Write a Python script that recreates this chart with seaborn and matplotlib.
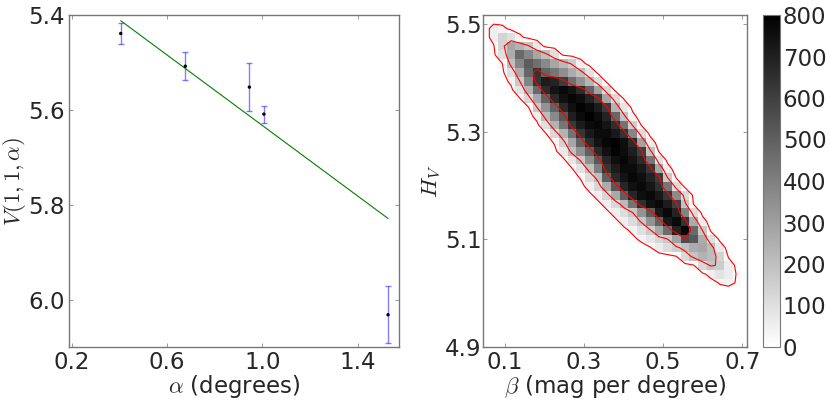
import numpy as np
import pandas as pd
import matplotlib
matplotlib.use("Agg")
import matplotlib.pyplot as plt
import seaborn as sns

# ---------------- data: left panel ----------------
alpha_deg = [0.406, 0.677, 0.946, 1.007, 1.528]
V_mag = [5.439, 5.508, 5.552, 5.609, 6.032]
V_err = [0.022, 0.030, 0.050, 0.018, 0.060]
fit_alpha = [0.406, 1.528]
fit_V = [5.412, 5.829]

# ---------------- data: right panel (2D histogram counts, rows from top) ----
row_start = [0, 0, 0, 0, 1, 1, 2, 2, 3, 4, 5, 5, 6, 7, 7, 8, 9, 10, 10, 11,
             12, 13, 14, 15, 16, 18, 21, 23, 24, 26]
row_counts = [
    [50, 40, 10],
    [50, 140, 100, 40, 5],
    [20, 140, 280, 240, 180, 70, 5],
    [10, 100, 260, 470, 380, 280, 200, 100, 15],
    [25, 200, 380, 510, 450, 370, 280, 220, 160, 50, 5],
    [10, 100, 260, 480, 640, 490, 430, 350, 260, 200, 90, 10],
    [40, 170, 390, 630, 710, 690, 610, 450, 340, 230, 110, 10],
    [10, 90, 240, 470, 660, 735, 770, 735, 660, 490, 290, 120, 10],
    [20, 130, 280, 490, 670, 745, 780, 755, 690, 600, 280, 120, 20],
    [20, 170, 340, 490, 670, 750, 790, 765, 710, 610, 240, 80, 10],
    [50, 210, 370, 520, 700, 765, 795, 760, 690, 480, 190, 40],
    [10, 100, 240, 430, 620, 710, 765, 775, 735, 650, 440, 150, 20],
    [20, 120, 240, 440, 630, 720, 765, 765, 720, 640, 380, 110, 10],
    [30, 140, 280, 490, 660, 740, 775, 800, 755, 660, 290, 60],
    [10, 70, 200, 350, 500, 670, 745, 785, 760, 700, 600, 190, 20],
    [10, 80, 180, 350, 520, 680, 750, 780, 740, 660, 430, 100, 10],
    [20, 90, 200, 400, 630, 710, 765, 765, 720, 630, 280, 50],
    [30, 110, 200, 500, 670, 740, 775, 750, 690, 610, 170, 20],
    [5, 50, 130, 260, 520, 680, 745, 770, 730, 650, 430, 110, 10],
    [10, 50, 130, 270, 500, 680, 750, 770, 720, 630, 360, 120, 10],
    [10, 50, 120, 220, 440, 650, 745, 770, 710, 600, 190, 20],
    [10, 50, 110, 170, 340, 510, 720, 770, 690, 390, 110, 10],
    [10, 50, 110, 180, 340, 490, 720, 770, 640, 260, 50],
    [10, 40, 100, 160, 280, 460, 690, 775, 470, 170, 10],
    [10, 40, 80, 130, 170, 290, 560, 520, 260, 100, 10],
    [20, 60, 110, 150, 200, 260, 280, 210, 70],
    [20, 120, 190, 240, 210, 140, 20],
    [20, 120, 180, 160, 60, 10],
    [10, 50, 90, 60, 20],
    [30, 40, 20],
]
contour_levels = [25, 170, 570]
cbar_ticks = [0, 100, 200, 300, 400, 500, 600, 700, 800]

# ---------------- grid structure ----------------
nx, ny = 30, 30
x_edges = np.linspace(0.06, 0.72, nx + 1)
y_edges = np.linspace(5.011, 5.50, ny + 1)
xc = 0.5 * (x_edges[:-1] + x_edges[1:])
yc = 0.5 * (y_edges[:-1] + y_edges[1:])
Z = np.zeros((ny, nx))
for r, (s, vals) in enumerate(zip(row_start, row_counts)):
    Z[ny - 1 - r, s:s + len(vals)] = vals

jj, ii = np.nonzero(Z)
df = pd.DataFrame({"beta": xc[ii], "H": yc[jj], "count": Z[jj, ii]})

# padded grid for contours
dxc = xc[1] - xc[0]
dyc = yc[1] - yc[0]
xcp = np.concatenate([[xc[0] - dxc], xc, [xc[-1] + dxc]])
ycp = np.concatenate([[yc[0] - dyc], yc, [yc[-1] + dyc]])
Zp = np.pad(Z, 1)

# ---------------- style ----------------
sns.set_style("white")
plt.rcParams["font.family"] = ["DejaVu Sans"]
plt.rcParams["mathtext.fontset"] = "cm"
FS = 16.5
SPINE = "#777777"

fig = plt.figure(figsize=(8.3, 4.04), dpi=100)
ax1 = fig.add_axes([69 / 830, 57 / 404, 330 / 830, 332 / 404])
ax2 = fig.add_axes([483 / 830, 57 / 404, 264 / 830, 332 / 404])
cax = fig.add_axes([763 / 830, 57 / 404, 17 / 830, 332 / 404])

# ---------------- left panel ----------------
ax1.errorbar(alpha_deg, V_mag, yerr=V_err, fmt="none", ecolor="blue",
             alpha=0.5, elinewidth=1.0, capsize=2, capthick=1.0, zorder=2)
sns.lineplot(x=fit_alpha, y=fit_V, color="green", linewidth=0.8, ax=ax1,
             zorder=3)
sns.scatterplot(x=alpha_deg, y=V_mag, color="black", s=6, edgecolor="none",
                ax=ax1, zorder=4)
ax1.set_xlim(0.189, 1.574)
ax1.set_ylim(6.1, 5.4)
ax1.set_xticks([0.2, 0.6, 1.0, 1.4])
ax1.set_yticks([5.4, 5.6, 5.8, 6.0])
ax1.set_xlabel(r"$\alpha$ (degrees)", fontsize=FS, labelpad=-1)
ax1.set_ylabel(r"$V(1,1,\alpha)$", fontsize=FS, labelpad=0)

# ---------------- right panel ----------------
sns.histplot(data=df, x="beta", y="H", weights="count",
             bins=[x_edges, y_edges], cmap="gray_r", vmin=0, vmax=800,
             cbar=True, cbar_ax=cax, cbar_kws={"ticks": cbar_ticks}, ax=ax2)
ax2.contour(xcp, ycp, Zp, levels=contour_levels, colors="red",
            linewidths=0.8, zorder=5)
ax2.set_xlim(0.044, 0.712)
ax2.set_ylim(4.9, 5.517)
ax2.set_xticks([0.1, 0.3, 0.5, 0.7])
ax2.set_yticks([4.9, 5.1, 5.3, 5.5])
ax2.set_xlabel(r"$\beta$ (mag per degree)", fontsize=FS, labelpad=-1)
ax2.set_ylabel(r"$H_V$", fontsize=FS, labelpad=1.5)

for ax in (ax1, ax2):
    ax.tick_params(direction="in", length=3, width=0.6, color="#888888",
                   top=True, right=True, bottom=True, left=True,
                   labelsize=FS, pad=3)
    for sp in ax.spines.values():
        sp.set_visible(True)
        sp.set_color(SPINE)
        sp.set_linewidth(1.0)
ax2.tick_params(axis="y", pad=1)

cax.tick_params(length=0, labelsize=FS, pad=2)
for sp in cax.spines.values():
    sp.set_color(SPINE)
    sp.set_linewidth(0.8)

fig.savefig("out.png", dpi=100)
